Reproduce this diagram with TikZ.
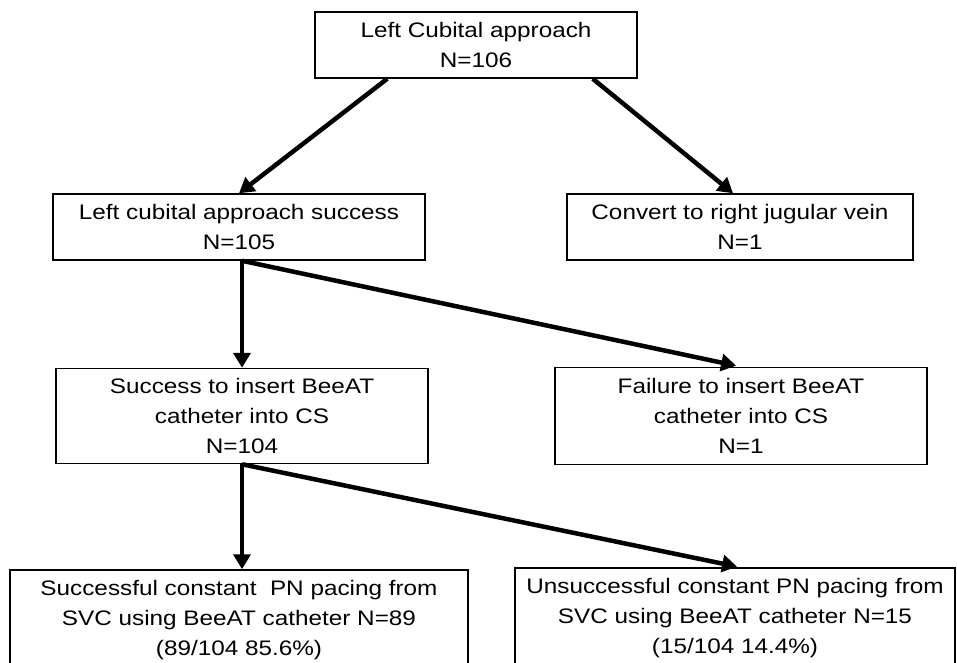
\documentclass[tikz,border=0pt]{standalone}
\usepackage{fontspec}
\setmainfont{Liberation Sans}[FakeStretch=1.157]
\usetikzlibrary{arrows.meta}
\begin{document}
\begin{tikzpicture}[x=1pt,y=-1pt,
  box/.style={draw=black, line width=1.5pt, fill=white, align=center, inner sep=0pt,
    font=\fontsize{21}{30}\selectfont},
  arr/.style={line width=4.5pt, -{Triangle[length=15pt,width=17pt]}}]
\useasboundingbox (0,0) rectangle (957,662);
\clip (0,0) rectangle (957,662);
\fill[white] (0,0) rectangle (957,662);
\node[box, minimum width=322pt, minimum height=66pt] (b1) at (476,45) {Left Cubital approach\\N=106};
\node[box, minimum width=372pt, minimum height=66pt] (b2) at (239,227) {Left cubital approach success\\N=105};
\node[box, minimum width=346pt, minimum height=66pt] (b3) at (740,227) {Convert to right jugular vein\\N=1};
\node[box, minimum width=372pt, minimum height=95pt] (b4) at (242,416) {Success to insert BeeAT\\catheter into CS\\N=104};
\node[box, minimum width=372pt, minimum height=97pt] (b5) at (741,416) {Failure to insert BeeAT\\catheter into CS\\N=1};
\node[box, minimum width=458pt, minimum height=100pt] (bl) at (239,620) {Successful constant \ PN pacing from\\SVC using BeeAT catheter N=89\\(89/104 85.6\%)};
\node[box, minimum width=440pt, minimum height=100pt] (br) at (735,618) {Unsuccessful constant PN pacing from\\SVC using BeeAT catheter N=15\\(15/104 14.4\%)};
\draw[arr] ([xshift=73pt]b1.south west) -- (b2.north);
\draw[arr] ([xshift=-45pt]b1.south east) -- ([xshift=-7pt]b3.north);
\draw[arr] ([xshift=3pt]b2.south) -- ([xshift=3pt]b2.south |- b4.north);
\draw[arr, shorten >=5pt] ([xshift=3pt]b2.south) -- (b5.north);
\draw[arr] (b4.south) -- (b4.south |- bl.north);
\draw[arr, shorten >=3pt] (b4.south) -- ([xshift=5pt]br.north);
\end{tikzpicture}
\end{document}
